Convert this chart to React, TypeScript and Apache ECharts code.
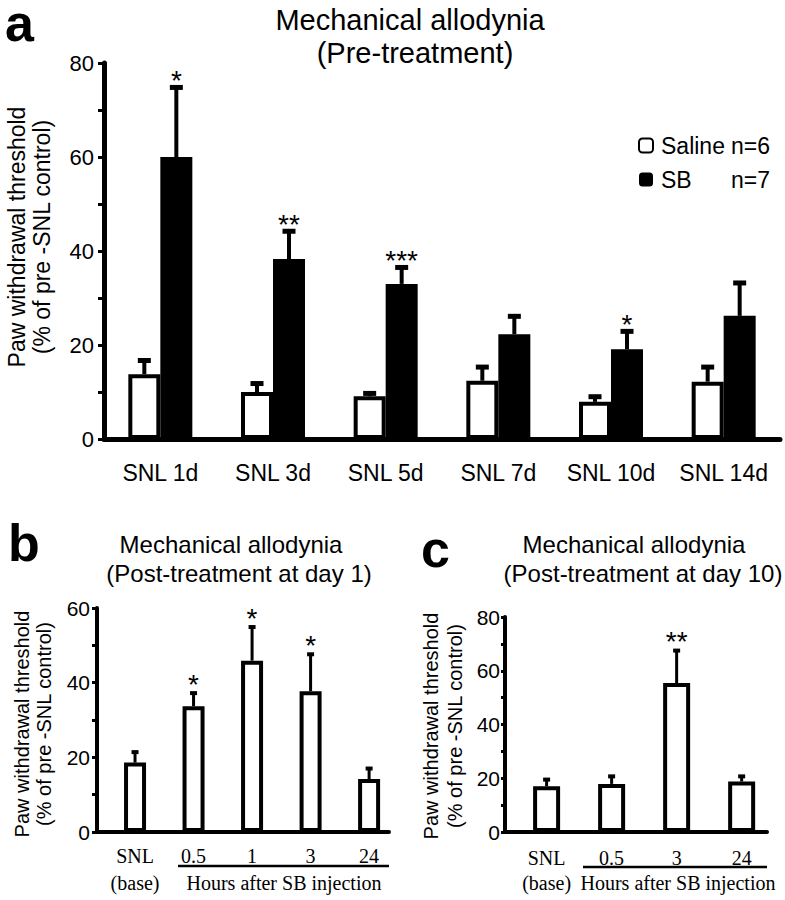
import React, { useEffect, useRef } from 'react';
import * as echarts from 'echarts';

// ---------- data ----------
const categoriesA = ['SNL 1d', 'SNL 3d', 'SNL 5d', 'SNL 7d', 'SNL 10d', 'SNL 14d'];
const salineMean = [13.8, 10.0, 9.1, 12.4, 7.9, 12.2];
const salineErr = [2.9, 1.8, 0.6, 2.9, 1.1, 3.1];
const sbMean = [60.0, 38.3, 33.0, 22.3, 19.1, 26.2];
const sbErr = [14.8, 5.9, 3.5, 3.8, 3.8, 7.0];
const starsA = ['*', '**', '***', '', '*', ''];
const groupNames = ['Saline', 'SB'];
const groupN = ['n=6', 'n=7'];

const categoriesB = ['SNL\n(base)', '0.5', '1', '3', '24'];
const meanB = [18.6, 33.7, 45.9, 37.7, 14.2];
const errB = [2.8, 3.5, 9.0, 9.9, 2.8];
const starsB = ['', '*', '*', '*', ''];

const categoriesC = ['SNL\n(base)', '0.5', '3', '24'];
const meanC = [17.0, 17.9, 55.4, 18.8];
const errC = [2.5, 2.8, 12.1, 1.9];
const starsC = ['', '', '**', ''];

const titlesA = ['Mechanical allodynia', '(Pre-treatment)'];
const titlesB = ['Mechanical allodynia', '(Post-treatment at day 1)'];
const titlesC = ['Mechanical allodynia', '(Post-treatment at day 10)'];
const yName = 'Paw withdrawal threshold\n(% of pre -SNL control)';
const hoursLabel = 'Hours after SB injection';

const SANS = '"Liberation Sans", Arial, Helvetica, sans-serif';
const SERIF = '"Liberation Serif", "Times New Roman", serif';

function makeErrorRender(
  stars: string[],
  offset: number,
  capHalf: number,
  lw: number,
  starSize: number,
  starGap: number
) {
  return (params: any, api: any) => {
    const i = api.value(0);
    const m = api.value(1);
    const e = api.value(2);
    const p0 = api.coord([i, m]);
    const p1 = api.coord([i, m + e]);
    const x = p0[0] + offset;
    const children: any[] = [
      {
        type: 'line',
        shape: { x1: x, y1: p0[1], x2: x, y2: p1[1] },
        style: { stroke: '#000', lineWidth: lw },
      },
      {
        type: 'line',
        shape: { x1: x - capHalf, y1: p1[1], x2: x + capHalf, y2: p1[1] },
        style: { stroke: '#000', lineWidth: lw + 1 },
      },
    ];
    const s = stars[params.dataIndex];
    if (s) {
      children.push({
        type: 'text',
        x,
        y: p1[1] - starGap,
        style: {
          text: s,
          fontSize: starSize,
          fontFamily: SANS,
          fill: '#000',
          align: 'center',
          verticalAlign: 'middle',
        },
      });
    }
    return { type: 'group', children };
  };
}

function yAxisCommon(max: number, lineW: number, fontSize: number, margin: number, tickLen: number, gridIndex: number) {
  return {
    type: 'value',
    gridIndex,
    min: 0,
    max,
    interval: 20,
    splitLine: { show: false },
    axisLine: { show: true, onZero: false, lineStyle: { color: '#000', width: lineW } },
    axisTick: { show: true, length: tickLen, lineStyle: { color: '#000', width: 3 } },
    minorTick: { show: true, splitNumber: 2, length: tickLen, lineStyle: { color: '#000', width: 3 } },
    axisLabel: { color: '#000', fontSize, fontFamily: SANS, margin },
  };
}

function textEl(x: number, y: number, text: string, fontSize: number, extra: any = {}) {
  return {
    type: 'text',
    x,
    y,
    style: {
      text,
      fontSize,
      fontFamily: SANS,
      fill: '#000',
      align: 'center',
      verticalAlign: 'middle',
      ...extra,
    },
  };
}

export default function App() {
  const ref = useRef<HTMLDivElement>(null);

  useEffect(() => {
    document.body.style.margin = '0';
    if (!ref.current) return;
    const chart = echarts.init(ref.current, undefined, { renderer: 'svg' });

    const option: any = {
      animation: false,
      backgroundColor: '#fff',
      grid: [
        { left: 104, top: 63, width: 676, height: 376 },
        { left: 97, top: 608, width: 292, height: 224 },
        { left: 505, top: 617, width: 262, height: 215 },
      ],
      legend: {
        orient: 'vertical',
        left: 633,
        top: 129,
        itemWidth: 14,
        itemHeight: 14,
        itemGap: 11,
        selectedMode: false,
        data: [
          { name: groupNames[0], itemStyle: { color: '#fff', borderColor: '#000', borderWidth: 2 } },
          { name: groupNames[1], itemStyle: { color: '#000', borderColor: '#000', borderWidth: 0 } },
        ],
        formatter: (name: string) => `{a|${name}}{b|${groupN[groupNames.indexOf(name)]}}`,
        textStyle: {
          color: '#000',
          fontSize: 23,
          fontFamily: SANS,
          rich: {
            a: { width: 70, padding: [0, 0, 0, 3], fontSize: 23, fontFamily: SANS, color: '#000' },
            b: { fontSize: 23, fontFamily: SANS, color: '#000' },
          },
        },
      },
      xAxis: [
        {
          type: 'category',
          gridIndex: 0,
          data: categoriesA,
          axisLine: { show: true, lineStyle: { color: '#000', width: 5 } },
          axisTick: { show: false },
          axisLabel: { interval: 0, color: '#000', fontSize: 23, fontFamily: SANS, margin: 22, lineHeight: 23 },
        },
        {
          type: 'value',
          gridIndex: 1,
          min: -0.65,
          max: 4.34,
          splitLine: { show: false },
          axisLine: { show: true, onZero: false, lineStyle: { color: '#000', width: 4 } },
          axisTick: { show: false },
          axisLabel: {
            customValues: categoriesB.map((_, i) => i),
            formatter: (v: number) => categoriesB[Math.round(v)] ?? '',
            color: '#000',
            fontSize: 20,
            lineHeight: 27,
            fontFamily: SERIF,
            margin: 10,
          },
        },
        {
          type: 'value',
          gridIndex: 2,
          min: -0.64,
          max: 3.39,
          splitLine: { show: false },
          axisLine: { show: true, onZero: false, lineStyle: { color: '#000', width: 4 } },
          axisTick: { show: false },
          axisLabel: {
            customValues: categoriesC.map((_, i) => i),
            formatter: (v: number) => categoriesC[Math.round(v)] ?? '',
            color: '#000',
            fontSize: 20,
            lineHeight: 25,
            fontFamily: SERIF,
            margin: 13,
          },
        },
      ],
      yAxis: [
        yAxisCommon(80, 5, 22, 10, 6, 0),
        yAxisCommon(60, 4, 21, 7, 5, 1),
        yAxisCommon(80, 4, 21, 5, 4, 2),
      ],
      series: [
        {
          type: 'bar',
          name: groupNames[0],
          xAxisIndex: 0,
          yAxisIndex: 0,
          data: salineMean,
          barWidth: 32,
          barGap: '0%',
          itemStyle: { color: '#fff', borderColor: '#000', borderWidth: 4 },
        },
        {
          type: 'bar',
          name: groupNames[1],
          xAxisIndex: 0,
          yAxisIndex: 0,
          data: sbMean,
          barWidth: 32,
          barGap: '0%',
          itemStyle: { color: '#000', borderColor: '#000', borderWidth: 4 },
        },
        {
          type: 'custom',
          name: 'errSaline',
          xAxisIndex: 0,
          yAxisIndex: 0,
          data: salineMean.map((m, i) => [i, m, salineErr[i]]),
          encode: { x: 0, y: 1 },
          renderItem: makeErrorRender(['', '', '', '', '', ''], -16, 6.5, 4, 28, 7),
          z: 3,
        },
        {
          type: 'custom',
          name: 'errSB',
          xAxisIndex: 0,
          yAxisIndex: 0,
          data: sbMean.map((m, i) => [i, m, sbErr[i]]),
          encode: { x: 0, y: 1 },
          renderItem: makeErrorRender(starsA, 16, 6.5, 4, 28, 7),
          z: 3,
        },
        {
          type: 'bar',
          name: 'day1',
          xAxisIndex: 1,
          yAxisIndex: 1,
          data: meanB.map((v, i) => [i, v]),
          barWidth: 22,
          itemStyle: { color: '#fff', borderColor: '#000', borderWidth: 4 },
        },
        {
          type: 'custom',
          name: 'errB',
          xAxisIndex: 1,
          yAxisIndex: 1,
          data: meanB.map((m, i) => [i, m, errB[i]]),
          encode: { x: 0, y: 1 },
          renderItem: makeErrorRender(starsB, 0, 3.5, 3, 28, 9),
          z: 3,
        },
        {
          type: 'bar',
          name: 'day10',
          xAxisIndex: 2,
          yAxisIndex: 2,
          data: meanC.map((v, i) => [i, v]),
          barWidth: 27,
          itemStyle: { color: '#fff', borderColor: '#000', borderWidth: 4 },
        },
        {
          type: 'custom',
          name: 'errC',
          xAxisIndex: 2,
          yAxisIndex: 2,
          data: meanC.map((m, i) => [i, m, errC[i]]),
          encode: { x: 0, y: 1 },
          renderItem: makeErrorRender(starsC, 0, 3.5, 3, 28, 9),
          z: 3,
        },
      ],
      graphic: [
        // panel letters
        textEl(5, 23, 'a', 52, { align: 'left', fontWeight: 'bold', lineHeight: 40 }),
        textEl(8, 543, 'b', 52, { align: 'left', fontWeight: 'bold', lineHeight: 44 }),
        textEl(421, 549, 'c', 52, { align: 'left', fontWeight: 'bold', lineHeight: 44 }),
        // titles
        textEl(410, 20, titlesA[0], 29),
        textEl(415, 53, titlesA[1], 29),
        textEl(231, 544, titlesB[0], 24),
        textEl(239, 573, titlesB[1], 24),
        textEl(634, 544, titlesC[0], 24),
        textEl(643, 573, titlesC[1], 24),
        // y axis names
        { ...textEl(29, 237, yName, 23, { lineHeight: 25 }), rotation: Math.PI / 2 },
        { ...textEl(33, 724, yName, 20, { lineHeight: 22 }), rotation: Math.PI / 2 },
        { ...textEl(443, 726, yName, 20, { lineHeight: 24 }), rotation: Math.PI / 2 },
        // hours underline & labels
        { type: 'line', shape: { x1: 178, y1: 866, x2: 389, y2: 866 }, style: { stroke: '#000', lineWidth: 2.5 } },
        { type: 'line', shape: { x1: 583, y1: 867, x2: 767, y2: 867 }, style: { stroke: '#000', lineWidth: 2.5 } },
        textEl(284, 883, hoursLabel, 20, { fontFamily: SERIF }),
        textEl(678, 883, hoursLabel, 20, { fontFamily: SERIF }),
      ],
    };

    chart.setOption(option);
    return () => {
      chart.dispose();
    };
  }, []);

  return <div ref={ref} style={{ width: 785, height: 900 }} />;
}
